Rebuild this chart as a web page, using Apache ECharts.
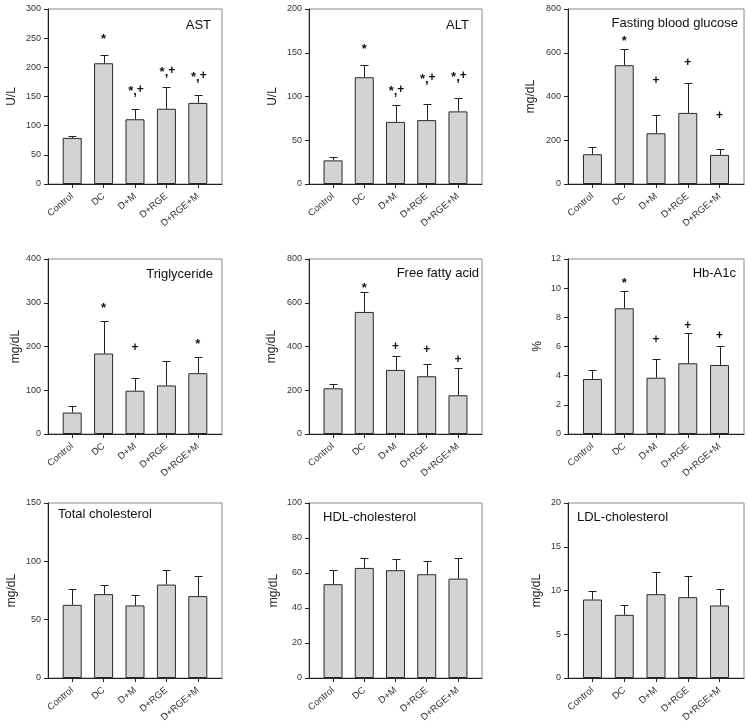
<!DOCTYPE html>
<html><head><meta charset="utf-8">
<script src="https://cdn.jsdelivr.net/npm/echarts@6/dist/echarts.min.js"></script>
<style>html,body{margin:0;padding:0;background:#fff}#c{width:747px;height:722px}</style>
</head><body><div id="c"></div>
<script>
// ---------- data ----------
const categories = ['Control', 'DC', 'D+M', 'D+RGE', 'D+RGE+M'];
const panelTitles = ['AST', 'ALT', 'Fasting blood glucose', 'Triglyceride', 'Free fatty acid', 'Hb-A1c', 'Total cholesterol', 'HDL-cholesterol', 'LDL-cholesterol'];
const yNames = ['U/L', 'U/L', 'mg/dL', 'mg/dL', 'mg/dL', '%', 'mg/dL', 'mg/dL', 'mg/dL'];
const yMax = [300, 200, 800, 400, 800, 12, 150, 100, 20];
const yStep = [50, 50, 200, 100, 200, 2, 50, 20, 5];

const astMean = [79, 207, 111, 129, 139];
const astErr = [4, 14, 18, 38, 14];
const altMean = [27, 122, 71, 73, 83];
const altErr = [4, 14, 19, 18, 15];
const fbgMean = [136, 543, 232, 325, 133];
const fbgErr = [32, 75, 84, 137, 26];
const tgMean = [49, 184, 99, 111, 139];
const tgErr = [14, 75, 28, 57, 38];
const ffaMean = [209, 558, 293, 264, 177];
const ffaErr = [18, 90, 62, 56, 126];
const hbMean = [3.77, 8.62, 3.86, 4.85, 4.73];
const hbErr = [0.6, 1.21, 1.31, 2.08, 1.3];
const tcMean = [62.7, 71.9, 62.2, 80.1, 70.2];
const tcErr = [13.4, 8.2, 9.1, 12.9, 17.3];
const hdlMean = [53.6, 62.9, 61.6, 59.3, 56.8];
const hdlErr = [8.2, 5.9, 6.5, 7.6, 11.5];
const ldlMean = [8.97, 7.22, 9.58, 9.24, 8.29];
const ldlErr = [1.03, 1.07, 2.55, 2.47, 1.86];

// significance marks and their heights (data units)
const astMarks = ['', '*', '*,+', '*,+', '*,+'];
const astMarkY = [null, 253, 159, 191, 183];
const altMarks = ['', '*', '*,+', '*,+', '*,+'];
const altMarkY = [null, 157, 106, 119, 122];
const fbgMarks = ['', '*', '+', '+', '+'];
const fbgMarkY = [null, 667, 472, 556, 311];
const tgMarks = ['', '*', '+', '', '*'];
const tgMarkY = [null, 295, 197, null, 211];
const ffaMarks = ['', '*', '+', '+', '+'];
const ffaMarkY = [null, 681, 399, 386, 341];
const hbMarks = ['', '*', '+', '+', '+'];
const hbMarkY = [null, 10.56, 6.45, 7.4, 6.74];
const noMarks = ['', '', '', '', ''];
const noMarkY = [null, null, null, null, null];

const means = [astMean, altMean, fbgMean, tgMean, ffaMean, hbMean, tcMean, hdlMean, ldlMean];
const errs = [astErr, altErr, fbgErr, tgErr, ffaErr, hbErr, tcErr, hdlErr, ldlErr];
const marks = [astMarks, altMarks, fbgMarks, tgMarks, ffaMarks, hbMarks, noMarks, noMarks, noMarks];
const markY = [astMarkY, altMarkY, fbgMarkY, tgMarkY, ffaMarkY, hbMarkY, noMarkY, noMarkY, noMarkY];

// ---------- layout ----------
const colLeft = [48, 309, 568];
const colWidth = [174, 173, 176];
const rowTop = [9, 259, 503];
const plotH = 175;
const nameGaps = [30, 30, 31, 24, 31, 24, 30, 29, 25];
// title anchor: [x, y, align]
const titlePos = [
  [211, 25, 'right'], [469, 25, 'right'], [738, 23, 'right'],
  [213, 274, 'right'], [479, 273, 'right'], [736, 273, 'right'],
  [58, 514, 'left'], [323, 517, 'left'], [577, 517, 'left']
];

const FONT = 'Liberation Sans, Arial, sans-serif';
const grids = [], xAxes = [], yAxes = [], series = [], graphics = [];

for (let i = 0; i < 9; i++) {
  const r = Math.floor(i / 3), c = i % 3;
  grids.push({
    left: colLeft[c], top: rowTop[r], width: colWidth[c], height: plotH,
    outerBoundsMode: 'none', containLabel: false,
    show: true, borderColor: '#8a8a8a', borderWidth: 1, backgroundColor: 'transparent'
  });
  xAxes.push({
    type: 'value', gridIndex: i, min: -0.77, max: 4.77,
    splitLine: { show: false },
    axisLine: { show: true, onZero: false, lineStyle: { color: '#222', width: 1 } },
    axisTick: { show: true, customValues: [0, 1, 2, 3, 4], length: 4, lineStyle: { color: '#222' } },
    axisLabel: {
      customValues: [0, 1, 2, 3, 4], rotate: 40, margin: 11,
      fontSize: 9.5, fontFamily: FONT, color: '#333',
      formatter: v => categories[Math.round(v)]
    }
  });
  yAxes.push({
    type: 'value', gridIndex: i, min: 0, max: yMax[i], interval: yStep[i],
    name: yNames[i], nameLocation: 'middle', nameGap: nameGaps[i],
    nameTextStyle: { fontSize: 12, fontFamily: FONT, color: '#222' },
    splitLine: { show: false },
    axisLine: { show: true, onZero: false, lineStyle: { color: '#222', width: 1 } },
    axisTick: { show: true, length: 4, lineStyle: { color: '#222' } },
    axisLabel: { fontSize: 9, fontFamily: FONT, color: '#333', margin: 7 }
  });

  const m = means[i], e = errs[i];
  series.push({
    type: 'bar', xAxisIndex: i, yAxisIndex: i, barWidth: 19,
    data: m.map((v, k) => [k, v]),
    itemStyle: { color: '#d3d3d3', borderColor: '#2a2a2a', borderWidth: 1 },
    silent: true, animation: false, z: 2
  });
  series.push({
    type: 'custom', xAxisIndex: i, yAxisIndex: i, z: 3, silent: true, animation: false,
    data: m.map((v, k) => [k, v, e[k]]),
    renderItem: (params, api) => {
      const x = api.value(0), v = api.value(1), d = api.value(2);
      const p0 = api.coord([x, v]), p1 = api.coord([x, v + d]);
      const cx = Math.round(p0[0]) + 0.5;
      const ty = Math.round(p1[1]) + 0.5;
      return {
        type: 'group', children: [
          { type: 'line', shape: { x1: cx, y1: p0[1], x2: cx, y2: ty }, style: { stroke: '#222', lineWidth: 1 } },
          { type: 'line', shape: { x1: cx - 4, y1: ty, x2: cx + 4, y2: ty }, style: { stroke: '#222', lineWidth: 1 } }
        ]
      };
    }
  });
  const mk = marks[i], my = markY[i];
  const mdata = [];
  mk.forEach((t, k) => { if (t) mdata.push([k, my[k], k]); });
  if (mdata.length) {
    series.push({
      type: 'custom', xAxisIndex: i, yAxisIndex: i, z: 4, silent: true, animation: false,
      data: mdata,
      renderItem: (params, api) => {
        const k = api.value(2);
        const p = api.coord([api.value(0), api.value(1)]);
        const t = mk[k];
        let text = t, rich = undefined;
        if (t === '*,+') {
          text = '{s|*,}{p|+}';
          rich = { s: { fontSize: 13, fontFamily: FONT, fill: '#111', fontWeight: 'bold' }, p: { fontSize: 12, fontFamily: FONT, fill: '#111', fontWeight: 'bold', padding: [0, 0, 4, 0] } };
        }
        return {
          type: 'text', x: p[0] + (t === '*,+' ? 1 : 0), y: p[1] + (t === '*' ? 3 : 0),
          style: { text: text, rich: rich, fontSize: t === '+' ? 12 : 13, fontWeight: 'bold', fontFamily: FONT, fill: '#111', align: 'center', verticalAlign: 'middle' }
        };
      }
    });
  }
  const tp = titlePos[i];
  graphics.push({
    type: 'text', x: tp[0], y: tp[1], silent: true,
    style: { text: panelTitles[i], fontSize: 13, fontFamily: FONT, fill: '#111', align: tp[2], verticalAlign: 'middle' }
  });
}

const chart = echarts.init(document.getElementById('c'), null, { renderer: 'canvas' });
chart.setOption({
  animation: false,
  backgroundColor: '#fff',
  grid: grids, xAxis: xAxes, yAxis: yAxes, series: series,
  graphic: graphics
});
</script>
</body></html>
